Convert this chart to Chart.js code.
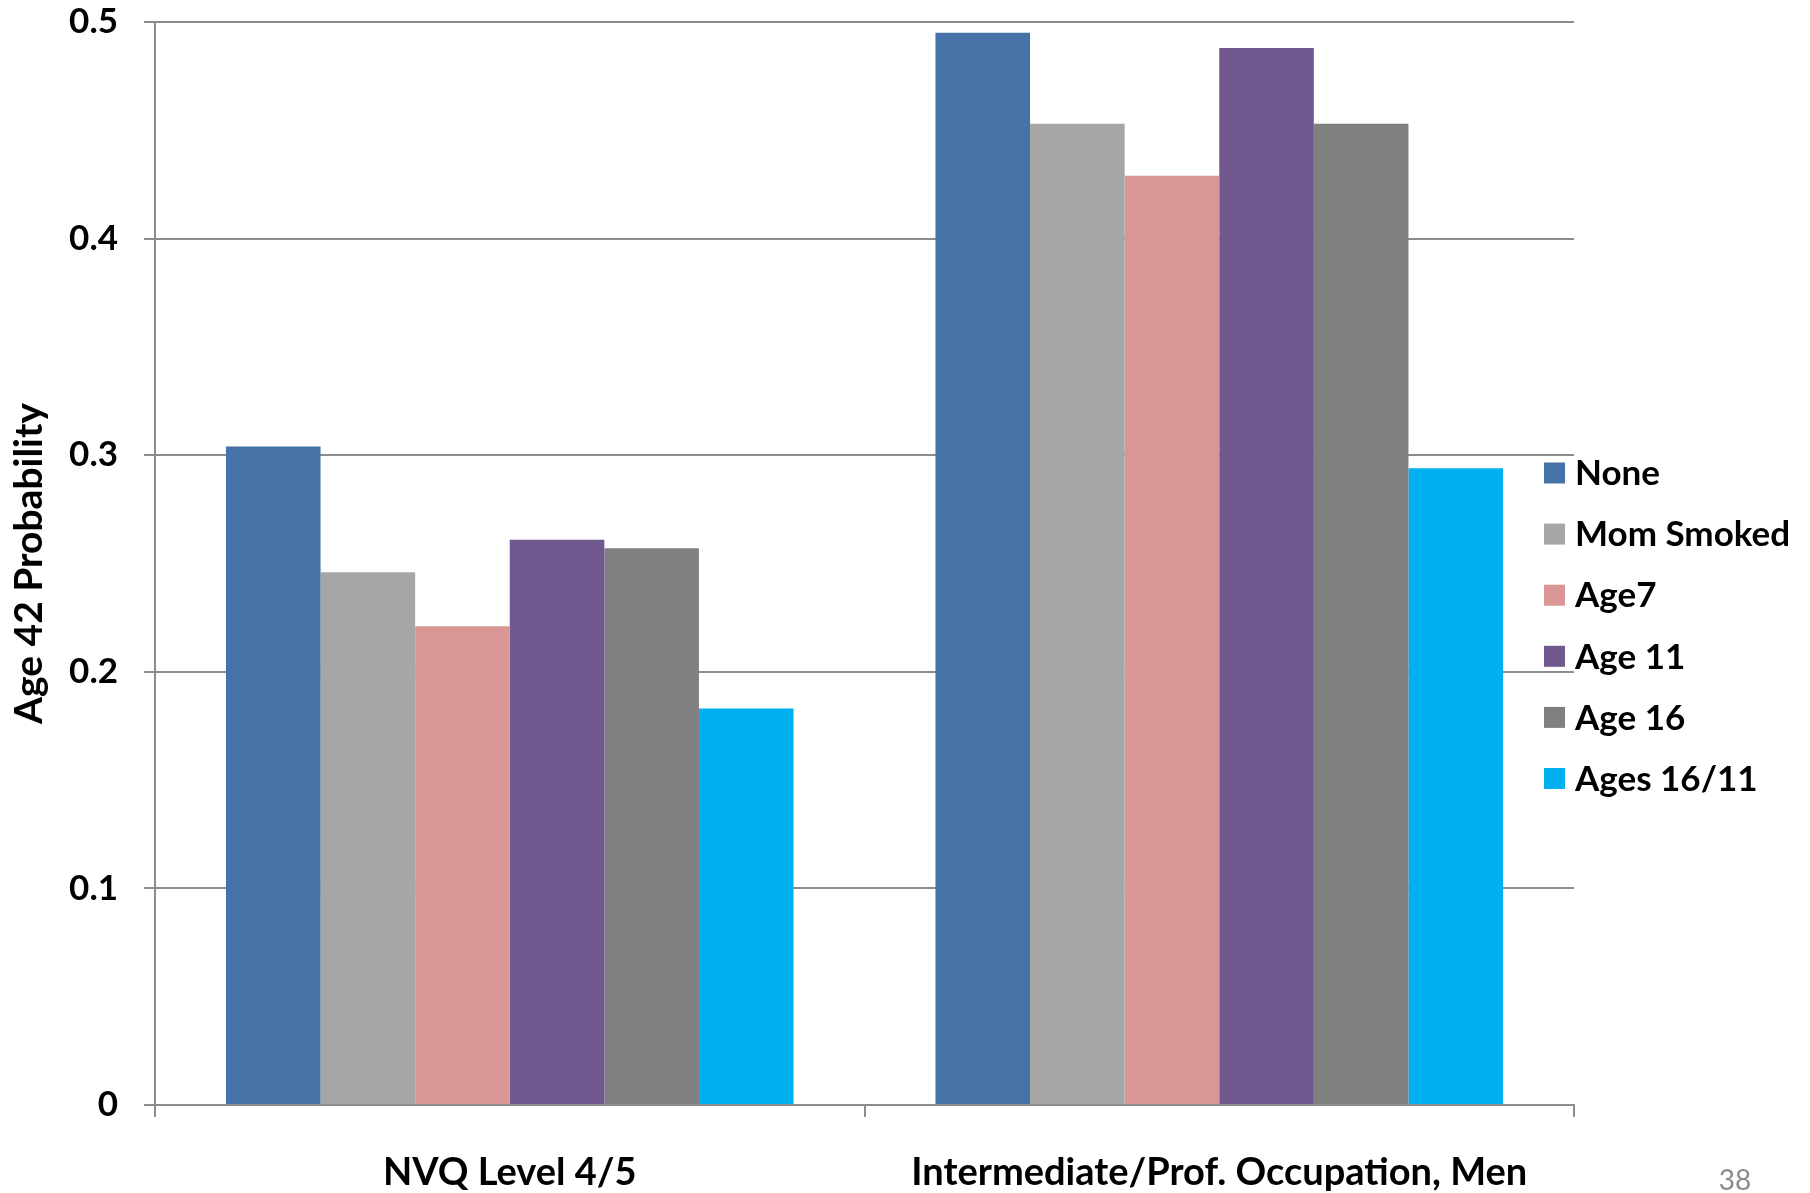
<!DOCTYPE html>
<html>
<head>
<meta charset="utf-8">
<title>Age 42 Probability</title>
<script src="https://cdn.jsdelivr.net/npm/chart.js@4/dist/chart.umd.min.js"></script>
<style>
  html, body { margin: 0; padding: 0; background: #ffffff; }
  #wrap { width: 1810px; height: 1193px; }
</style>
</head>
<body>
<div id="wrap"><canvas id="chart" width="1810" height="1193"></canvas></div>
<script>
// Outcome groups along the x axis
const categories = ['NVQ Level 4/5', 'Intermediate/Prof. Occupation, Men'];

// Smoking-exposure series (probability at age 42)
const seriesNames = ['None', 'Mom Smoked', 'Age7', 'Age 11', 'Age 16', 'Ages 16/11'];
const none       = [0.304, 0.495];
const momSmoked  = [0.246, 0.453];
const age7       = [0.221, 0.429];
const age11      = [0.261, 0.488];
const age16      = [0.257, 0.453];
const ages16_11  = [0.183, 0.294];
const seriesColors = ['#4573A7', '#A6A6A6', '#D99694', '#71588F', '#808080', '#00B0F0'];

// Y axis tick labels
const yTickValues = [0, 0.1, 0.2, 0.3, 0.4, 0.5];
const yTickLabels = ['0', '0.1', '0.2', '0.3', '0.4', '0.5'];

const seriesValues = [none, momSmoked, age7, age11, age16, ages16_11];
const FONT = 'Lato, "Open Sans", "DejaVu Sans", sans-serif';
const AXIS_GREY = '#8c8c8c';

// Legend drawn at the right edge, slightly overlapping the plot frame
const sideLegend = {
  id: 'sideLegend',
  afterDraw(chart) {
    const ctx = chart.ctx;
    ctx.save();
    ctx.font = 'bold 35px ' + FONT;
    ctx.textBaseline = 'middle';
    ctx.textAlign = 'left';
    chart.data.datasets.forEach((ds, i) => {
      const cy = 473 + i * 61.1;
      ctx.fillStyle = ds.backgroundColor;
      ctx.fillRect(1544, cy - 10.5, 21, 21);
      ctx.fillStyle = '#000000';
      ctx.fillText(ds.label, 1575, cy + 1);
    });
    // slide number
    ctx.font = '28px ' + FONT;
    ctx.fillStyle = '#8b8b8b';
    ctx.textAlign = 'center';
    ctx.fillText('38', 1735, 1181);
    ctx.restore();
  }
};

new Chart(document.getElementById('chart'), {
  type: 'bar',
  data: {
    labels: categories,
    datasets: seriesNames.map((name, i) => ({
      label: name,
      data: seriesValues[i],
      backgroundColor: seriesColors[i],
      borderWidth: 0,
      categoryPercentage: 0.8,
      barPercentage: 1.0
    }))
  },
  options: {
    responsive: false,
    devicePixelRatio: 1,
    animation: false,
    layout: { padding: { top: 22, right: 236, bottom: 0, left: 0 } },
    plugins: {
      legend: { display: false },
      tooltip: { enabled: false }
    },
    scales: {
      x: {
        offset: true,
        grid: {
          display: true,
          offset: true,
          drawOnChartArea: false,
          drawTicks: true,
          tickLength: 12,
          color: AXIS_GREY,
          lineWidth: 2
        },
        border: { display: true, color: AXIS_GREY, width: 2 },
        ticks: {
          color: '#000000',
          font: { family: FONT, size: 38, weight: 'bold' },
          padding: 33,
          maxRotation: 0,
          autoSkip: false
        },
        afterFit(scale) { scale.height = 88; }
      },
      y: {
        min: 0,
        max: 0.5,
        afterBuildTicks(scale) {
          scale.ticks = yTickValues.map(v => ({ value: v }));
        },
        grid: {
          color: AXIS_GREY,
          lineWidth: 2,
          tickLength: 11
        },
        border: { display: true, color: AXIS_GREY, width: 2 },
        ticks: {
          color: '#000000',
          font: { family: FONT, size: 35, weight: 'bold', lineHeight: 1.2 },
          padding: 26,
          callback(value) {
            const idx = yTickValues.findIndex(v => Math.abs(v - value) < 1e-9);
            return idx >= 0 ? yTickLabels[idx] : '';
          }
        },
        title: {
          display: true,
          text: 'Age 42 Probability',
          color: '#000000',
          font: { family: FONT, size: 39, weight: 'bold' },
          padding: { top: 6, bottom: 0 }
        },
        afterFit(scale) {
          // fixed axis width; the top/bottom tick labels may overhang the plot
          scale.width = 155;
          scale.paddingTop = 0;
          scale.paddingBottom = 0;
        }
      }
    }
  },
  plugins: [sideLegend]
});
</script>
</body>
</html>
